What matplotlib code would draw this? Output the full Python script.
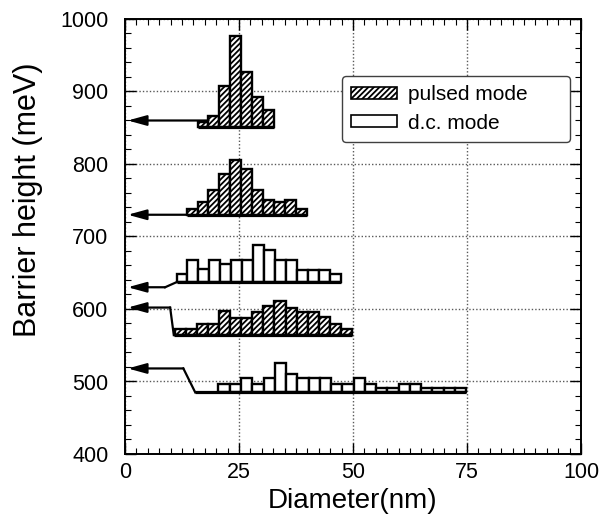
import numpy as np
import matplotlib
matplotlib.use("Agg")
import matplotlib.pyplot as plt
from matplotlib.ticker import MultipleLocator
from matplotlib.patches import Patch

plt.rcParams["font.family"] = ["Liberation Sans", "DejaVu Sans"]
plt.rcParams["hatch.linewidth"] = 1.3

# ---------------------------------------------------------------------------
# Histogram data: bin start (nm), bin width (nm), baseline (meV), bar tops (meV)
# ---------------------------------------------------------------------------
pulsed_a_start, pulsed_a_width, pulsed_a_base = 15.9, 2.4, 851
pulsed_a_tops = [858, 866, 907, 976, 927, 892, 874]

pulsed_b_start, pulsed_b_width, pulsed_b_base = 13.5, 2.4, 729
pulsed_b_tops = [738, 747, 764, 786, 806, 793, 764, 750, 747, 750, 738]

dc_a_start, dc_a_width, dc_a_base = 11.3, 2.4, 637
dc_a_tops = [648, 667, 655, 667, 662, 667, 667, 688, 681, 667, 667, 654, 654, 654, 648]

pulsed_c_start, pulsed_c_width, pulsed_c_base = 11.0, 2.42, 564
pulsed_c_tops = [572, 572, 580, 580, 597, 587, 587, 596, 604, 611, 602, 596, 596, 589, 580, 573]

dc_b_start, dc_b_width, dc_b_base = 20.5, 2.47, 485
dc_b_tops = [497, 497, 505, 497, 505, 526, 511, 505, 505, 505, 497, 497,
             505, 497, 491, 491, 497, 497, 491, 491, 491, 491]

# mean barrier height of each histogram, marked by an arrow on the y axis
arrow_level = [860, 730, 630, 602, 518]
arrow_tail = [18.3, 13.5, 8.8, 9.9, 12.8]
foot_x = [None, None, 11.3, 10.7, 15.4]

hist_specs = [
    (pulsed_a_start, pulsed_a_width, pulsed_a_base, pulsed_a_tops, True),
    (pulsed_b_start, pulsed_b_width, pulsed_b_base, pulsed_b_tops, True),
    (dc_a_start, dc_a_width, dc_a_base, dc_a_tops, False),
    (pulsed_c_start, pulsed_c_width, pulsed_c_base, pulsed_c_tops, True),
    (dc_b_start, dc_b_width, dc_b_base, dc_b_tops, False),
]

fig = plt.figure(figsize=(6.07, 5.21), dpi=100)
ax = fig.add_axes([125 / 607, 67 / 521, 456 / 607, 435 / 521])

for (start, width, base, tops, pulsed), level, tail, foot in zip(
        hist_specs, arrow_level, arrow_tail, foot_x):
    tops = np.array(tops)
    edges = start + width * np.arange(len(tops))
    ax.bar(edges, tops - base, width, bottom=base, align="edge",
           facecolor="white", edgecolor="black", linewidth=1.7,
           hatch="//////" if pulsed else None, zorder=3)
    # baseline under the bars (and the stretch back to the connector)
    x0 = foot if foot is not None else start
    ax.plot([x0, edges[-1] + width], [base, base], color="black", lw=2.3,
            solid_capstyle="butt", zorder=4)
    if foot is not None:
        ax.plot([foot, tail], [base, level], color="black", lw=1.6, zorder=4)
    ax.annotate("", xy=(0.6, level), xytext=(tail, level),
                arrowprops=dict(arrowstyle="-|>,head_length=0.8,head_width=0.22",
                                color="black", lw=1.6, mutation_scale=14,
                                shrinkA=0, shrinkB=0),
                zorder=4)

ax.set_xlim(0, 100)
ax.set_ylim(400, 1000)
ax.xaxis.set_major_locator(MultipleLocator(25))
ax.xaxis.set_minor_locator(MultipleLocator(2.5))
ax.yaxis.set_major_locator(MultipleLocator(100))
ax.yaxis.set_minor_locator(MultipleLocator(20))
ax.tick_params(which="both", direction="in", top=True, right=True, labelsize=15.5)
ax.tick_params(which="major", length=8, width=1)
ax.tick_params(axis="x", which="major", pad=6)
ax.tick_params(axis="y", which="major", pad=12)
ax.tick_params(which="minor", length=4, width=0.8)
ax.grid(True, which="major", linestyle=(0, (1, 1.5)), color="0.35", linewidth=1, zorder=0)
for s in ax.spines.values():
    s.set_linewidth(1.4)

ax.set_xlabel("Diameter(nm)", fontsize=20, labelpad=3)
ax.set_ylabel("Barrier height (meV)", fontsize=22)
ax.yaxis.set_label_coords(-0.18, 0.584)

handles = [Patch(facecolor="white", edgecolor="black", hatch="//////", linewidth=1.2),
           Patch(facecolor="white", edgecolor="black", linewidth=1.2)]
leg = ax.legend(handles, ["pulsed mode", "d.c. mode"], loc="upper left",
                bbox_to_anchor=(0.476, 0.722, 0.5, 0.147), mode="expand",
                borderaxespad=0, fontsize=15, handlelength=2.2, handleheight=0.5,
                handletextpad=0.5, labelspacing=0.45, borderpad=0.45,
                fancybox=True, framealpha=1, edgecolor="0.25")
leg.get_frame().set_linewidth(1)
leg.set_zorder(5)

fig.savefig("out.png", dpi=100)
